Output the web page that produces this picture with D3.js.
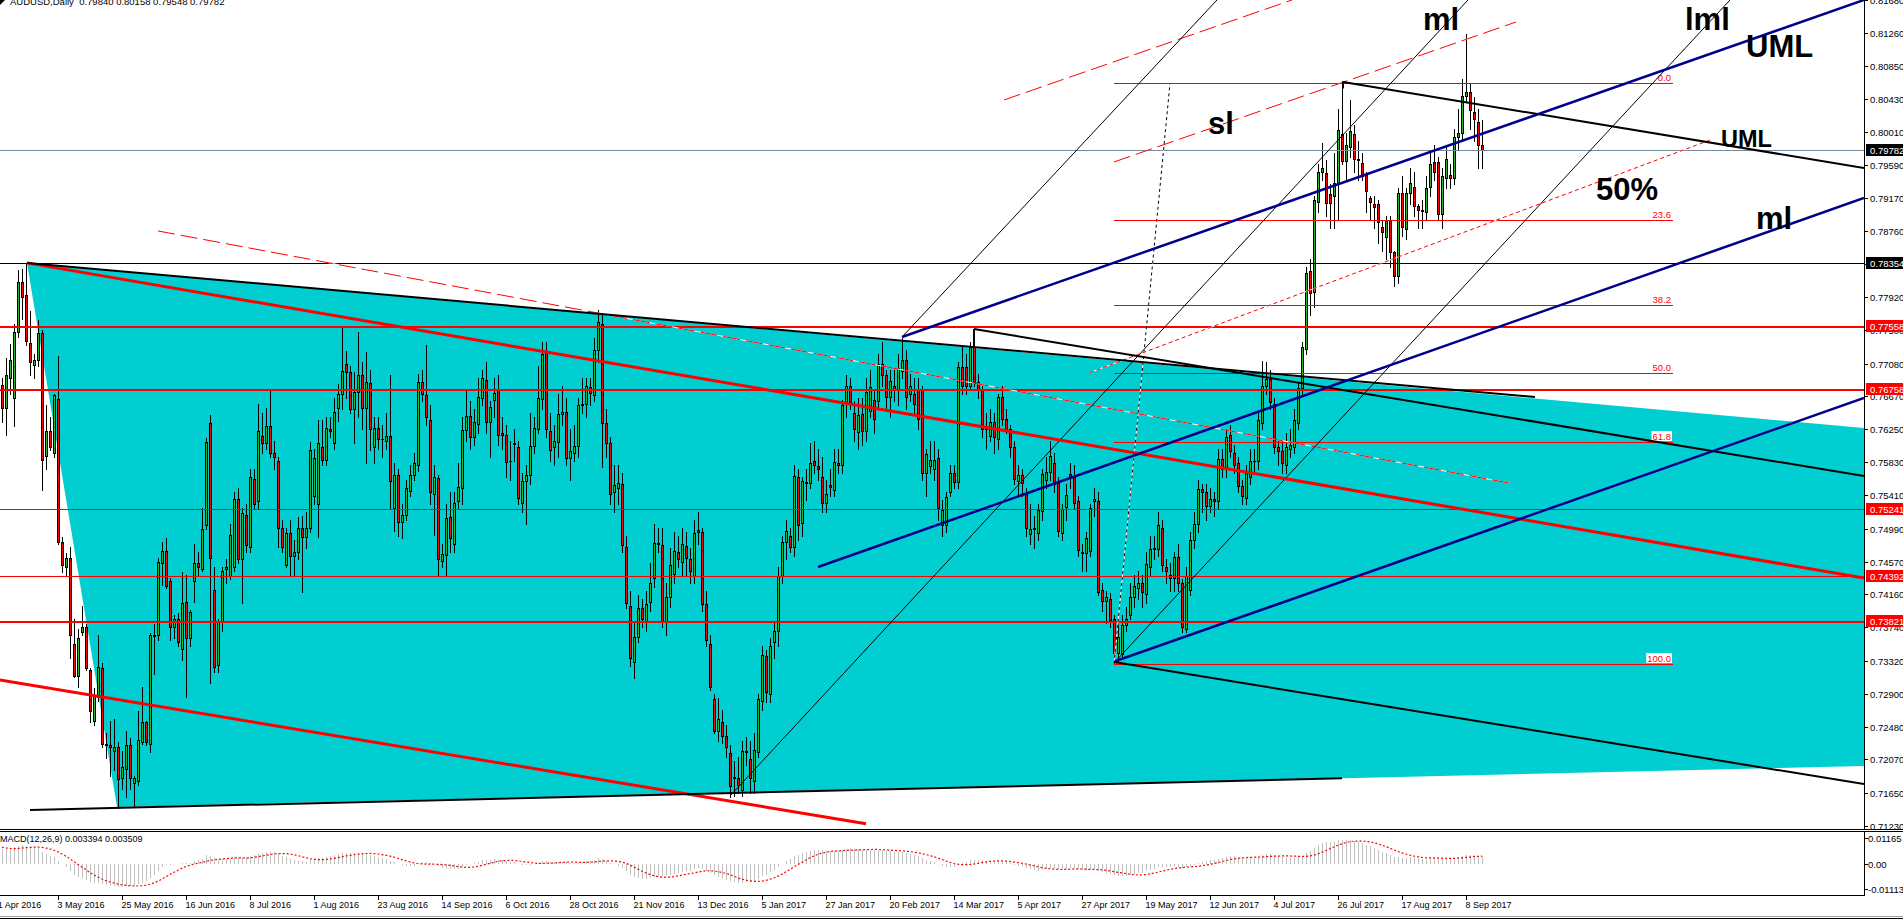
<!DOCTYPE html>
<html>
<head>
<meta charset="utf-8">
<title>AUDUSD Daily</title>
<script src="https://cdn.jsdelivr.net/npm/d3@7/dist/d3.min.js"></script>
<style>
  body { margin: 0; background: #fff; overflow: hidden; }
  svg { display: block; }
  text { font-family: "Liberation Sans", Arial, sans-serif; }
</style>
</head>
<body>
<svg id="chart" width="1903" height="919"></svg>
<script>
// AUDUSD daily bars, 11 Apr 2016 .. 14 Sep 2017, prices in pips (x 0.0001)
const opens = [
7590,7630,7681,7652,7690,7665,7748,7811,7795,7734,
7706,7713,7747,7591,7623,7595,7663,7482,7451,7462,
7353,7313,7368,7374,7320,7256,7286,7322,7227,7225,
7218,7222,7184,7195,7225,7177,7179,7229,7254,7227,
7365,7365,7455,7471,7433,7374,7385,7347,7406,7360,
7433,7455,7448,7503,7633,7421,7326,7381,7448,7439,
7451,7537,7460,7516,7476,7562,7534,7616,7607,7629,
7595,7585,7500,7453,7494,7464,7469,7500,7489,7500,
7540,7530,7602,7586,7625,7607,7652,7670,7708,7697,
7650,7672,7693,7652,7683,7602,7626,7612,7610,7616,
7525,7567,7507,7516,7547,7567,7580,7685,7668,7636,
7543,7563,7458,7466,7514,7479,7534,7550,7624,7641,
7615,7632,7665,7687,7634,7662,7674,7620,7617,7584,
7606,7602,7532,7559,7567,7604,7625,7663,7722,7623,
7602,7609,7644,7647,7589,7595,7604,7655,7657,7678,
7668,7725,7758,7633,7607,7545,7550,7555,7476,7401,
7330,7362,7399,7381,7406,7437,7481,7478,7381,7412,
7441,7470,7457,7477,7461,7439,7497,7495,7403,7353,
7283,7243,7254,7236,7215,7184,7184,7168,7218,7208,
7180,7216,7281,7338,7290,7355,7369,7439,7482,7490,
7476,7564,7506,7558,7557,7585,7578,7565,7532,7554,
7548,7582,7580,7657,7679,7646,7621,7644,7623,7648,
7662,7661,7708,7693,7666,7680,7674,7698,7713,7670,
7670,7675,7674,7570,7578,7574,7589,7503,7503,7546,
7570,7558,7703,7703,7680,7729,7684,7674,7625,7616,
7634,7612,7666,7638,7625,7602,7559,7567,7543,7492,
7499,7494,7521,7561,7571,7582,7557,7494,7526,7568,
7565,7534,7469,7468,7471,7534,7534,7421,7408,7410,
7385,7342,7340,7377,7390,7412,7424,7430,7416,7450,
7473,7473,7500,7451,7440,7437,7463,7430,7372,7421,
7485,7505,7549,7546,7528,7537,7534,7587,7574,7618,
7595,7582,7553,7538,7564,7584,7584,7633,7680,7688,
7657,7602,7597,7579,7600,7602,7633,7677,7726,7825,
7799,7912,7951,7949,7923,7920,7936,7999,7964,7982,
7998,7967,7962,7947,7917,7910,7910,7881,7868,7889,
7849,7819,7924,7878,7924,7932,7907,7902,7900,7931,
7963,7963,7897,7943,7947,7943,7995,8000,8047,8052,
8026,8014,7984
];
const highs = [
7640,7690,7690,7715,7733,7758,7826,7828,7835,7774,
7720,7763,7751,7656,7640,7670,7718,7489,7468,7476,
7385,7372,7401,7378,7322,7297,7365,7329,7240,7256,
7258,7229,7218,7243,7234,7186,7268,7299,7256,7367,
7378,7462,7482,7487,7437,7390,7392,7444,7440,7396,
7480,7470,7525,7614,7643,7451,7385,7451,7460,7505,
7545,7550,7525,7530,7575,7575,7657,7645,7652,7675,
7610,7590,7510,7500,7510,7485,7514,7515,7520,7609,
7600,7636,7636,7640,7640,7665,7682,7754,7724,7705,
7697,7748,7710,7722,7700,7640,7640,7630,7645,7693,
7582,7575,7530,7560,7580,7595,7695,7700,7731,7656,
7580,7567,7480,7530,7545,7545,7582,7640,7675,7660,
7650,7690,7700,7710,7660,7690,7693,7640,7630,7610,
7625,7610,7570,7580,7645,7640,7705,7735,7735,7645,
7630,7670,7680,7665,7625,7630,7665,7690,7690,7690,
7740,7776,7772,7650,7615,7580,7580,7570,7490,7420,
7380,7415,7410,7420,7455,7505,7500,7500,7430,7475,
7495,7490,7500,7495,7475,7510,7520,7500,7420,7365,
7290,7285,7270,7250,7225,7205,7210,7230,7235,7230,
7240,7290,7350,7345,7360,7380,7450,7490,7510,7500,
7580,7575,7565,7575,7607,7610,7600,7590,7560,7575,
7600,7600,7662,7693,7690,7660,7665,7665,7690,7700,
7675,7720,7735,7700,7700,7700,7720,7740,7725,7695,
7690,7690,7680,7600,7610,7610,7600,7535,7545,7580,
7580,7710,7730,7720,7735,7751,7695,7680,7645,7650,
7645,7670,7680,7650,7630,7610,7580,7575,7550,7530,
7515,7530,7575,7590,7610,7595,7565,7530,7555,7582,
7580,7540,7480,7495,7530,7550,7545,7430,7420,7418,
7390,7385,7390,7400,7430,7440,7445,7440,7470,7490,
7490,7520,7510,7460,7455,7470,7480,7435,7450,7495,
7520,7560,7555,7555,7550,7545,7600,7600,7625,7630,
7605,7590,7560,7580,7600,7600,7645,7711,7710,7700,
7665,7610,7610,7620,7625,7650,7685,7735,7830,7840,
7920,7960,7987,7965,7935,7975,8030,8065,8000,8042,
8010,7990,7975,7950,7920,7920,7915,7890,7895,7895,
7850,7930,7945,7930,7955,7950,7910,7915,7945,7975,
7985,7970,7955,7985,7960,8005,8030,8068,8125,8062,
8045,8030,8016
];
const lows = [
7580,7620,7634,7618,7670,7629,7742,7765,7731,7693,
7690,7705,7548,7575,7598,7590,7480,7444,7440,7335,
7311,7299,7364,7320,7254,7250,7281,7222,7209,7186,
7193,7145,7170,7159,7170,7148,7175,7227,7225,7216,
7315,7358,7428,7424,7358,7360,7350,7333,7286,7350,
7406,7440,7446,7498,7304,7318,7318,7370,7430,7435,
7445,7455,7405,7470,7470,7525,7525,7595,7600,7590,
7575,7476,7470,7450,7440,7440,7460,7419,7475,7495,
7530,7489,7580,7580,7615,7600,7635,7650,7665,7645,
7607,7640,7625,7582,7598,7582,7600,7590,7600,7525,
7496,7490,7487,7510,7540,7560,7572,7660,7630,7530,
7491,7440,7451,7440,7470,7470,7525,7530,7610,7600,
7605,7620,7655,7620,7590,7640,7605,7600,7565,7560,
7585,7530,7520,7505,7555,7595,7620,7650,7615,7585,
7580,7590,7630,7580,7560,7585,7590,7645,7640,7655,
7660,7710,7577,7590,7530,7520,7530,7470,7398,7325,
7310,7355,7375,7370,7395,7425,7470,7375,7365,7400,
7430,7450,7440,7440,7430,7430,7480,7395,7350,7295,
7240,7230,7228,7210,7159,7160,7164,7160,7200,7165,
7165,7210,7270,7280,7280,7335,7350,7430,7460,7470,
7465,7485,7490,7535,7550,7570,7560,7520,7520,7540,
7540,7570,7570,7640,7650,7610,7600,7605,7610,7640,
7620,7650,7680,7650,7640,7660,7655,7690,7650,7660,
7645,7625,7560,7540,7570,7560,7510,7490,7495,7540,
7550,7550,7670,7670,7675,7680,7665,7615,7600,7610,
7595,7600,7630,7620,7590,7555,7540,7540,7490,7480,
7475,7485,7510,7550,7560,7545,7490,7485,7510,7550,
7525,7465,7445,7445,7465,7515,7415,7395,7380,7375,
7328,7330,7335,7370,7385,7400,7410,7400,7405,7440,
7460,7465,7445,7430,7420,7420,7420,7368,7368,7415,
7475,7495,7520,7510,7520,7515,7525,7565,7565,7590,
7570,7545,7530,7530,7555,7570,7575,7625,7670,7650,
7595,7580,7570,7570,7590,7595,7625,7670,7720,7770,
7780,7900,7940,7895,7880,7880,7890,7960,7940,7970,
7950,7940,7940,7900,7890,7880,7860,7850,7840,7830,
7806,7810,7870,7865,7910,7895,7880,7880,7890,7920,
7940,7890,7880,7930,7930,7935,7980,7990,8040,8005,
7990,7955,7955
];
const closes = [
7630,7681,7652,7693,7713,7748,7811,7792,7736,7710,
7713,7747,7586,7623,7602,7668,7482,7453,7462,7365,
7313,7360,7374,7322,7268,7288,7324,7227,7225,7222,
7222,7182,7197,7225,7184,7184,7231,7254,7229,7365,
7363,7457,7471,7426,7374,7385,7356,7405,7360,7394,
7455,7451,7498,7609,7462,7324,7381,7446,7450,7491,
7537,7460,7519,7478,7564,7530,7623,7607,7629,7595,
7590,7500,7476,7494,7464,7469,7500,7489,7500,7598,
7589,7607,7586,7627,7623,7647,7670,7699,7697,7650,
7672,7693,7652,7685,7625,7626,7612,7613,7616,7559,
7567,7507,7516,7550,7567,7582,7685,7670,7640,7545,
7565,7461,7467,7513,7487,7531,7552,7624,7642,7615,
7634,7666,7690,7634,7653,7671,7617,7617,7583,7585,
7607,7538,7559,7567,7604,7626,7665,7720,7625,7598,
7610,7644,7647,7589,7597,7604,7655,7657,7679,7671,
7725,7760,7633,7607,7543,7554,7557,7478,7405,7335,
7362,7399,7385,7403,7430,7481,7480,7381,7412,7453,
7471,7460,7479,7462,7445,7494,7495,7403,7358,7299,
7243,7258,7236,7222,7173,7185,7175,7218,7216,7184,
7219,7283,7339,7292,7351,7369,7439,7482,7496,7476,
7566,7503,7559,7557,7582,7580,7575,7532,7543,7552,
7583,7580,7656,7679,7659,7625,7643,7623,7672,7678,
7638,7708,7693,7666,7686,7674,7702,7712,7666,7679,
7657,7638,7570,7594,7586,7586,7525,7523,7539,7570,
7558,7703,7679,7680,7729,7684,7674,7625,7626,7634,
7615,7666,7638,7625,7602,7562,7567,7557,7500,7499,
7500,7522,7568,7571,7591,7555,7496,7524,7542,7566,
7532,7472,7468,7487,7525,7536,7419,7408,7413,7383,
7342,7362,7377,7385,7412,7426,7430,7419,7454,7473,
7474,7503,7453,7446,7437,7463,7430,7374,7439,7485,
7505,7549,7546,7528,7537,7534,7587,7574,7615,7597,
7579,7553,7540,7569,7584,7585,7636,7680,7688,7659,
7602,7597,7582,7602,7605,7636,7677,7729,7822,7797,
7915,7951,7956,7911,7911,7936,8004,7964,7985,8002,
7967,7966,7946,7926,7912,7906,7887,7874,7889,7849,
7819,7924,7881,7924,7937,7907,7902,7901,7930,7961,
7950,7897,7946,7967,7943,7995,8000,8047,8052,8029,
8018,7985,7978
];
// closes before the visible window (Feb..8 Apr 2016), only used to warm up the MACD
const warmupCloses = [
7080,7050,7110,7150,7050,7070,7060,7090,7030,7120,
7140,7110,7160,7140,7140,7180,7160,7160,7200,7160,
7130,7180,7250,7340,7390,7460,7400,7440,7410,7520,
7510,7440,7560,7630,7620,7600,7590,7530,7500,7510,
7530,7640,7670,7660,7640,7600,7560,7590,7530,7580
];

const dateLabels = ["11 Apr 2016","3 May 2016","25 May 2016","16 Jun 2016","8 Jul 2016","1 Aug 2016",
  "23 Aug 2016","14 Sep 2016","6 Oct 2016","28 Oct 2016","21 Nov 2016","13 Dec 2016","5 Jan 2017",
  "27 Jan 2017","20 Feb 2017","14 Mar 2017","5 Apr 2017","27 Apr 2017","19 May 2017","12 Jun 2017",
  "4 Jul 2017","26 Jul 2017","17 Aug 2017","8 Sep 2017"];
const priceTicks = [0.81680,0.81260,0.80850,0.80430,0.80010,0.79590,0.79170,0.78760,0.78340,0.77920,
  0.77500,0.77080,0.76670,0.76250,0.75830,0.75410,0.74990,0.74570,0.74160,0.73740,0.73320,0.72900,
  0.72480,0.72070,0.71650,0.71230];
const macdTicks = [0.01165, 0.00, -0.01113];

// horizontal lines
const bidPrice = 0.79782;
const levelsBlack = [0.78354];
const levelsRedThick = [0.77558, 0.76758, 0.73821];
const levelsRedThin = [0.75241, 0.74392];

// fibonacci retracement
const fibRatios = [0.0, 23.6, 38.2, 50.0, 61.8, 100.0];
const fibHigh = 0.80627, fibLow = 0.73281;
const fibBars = [280, 294, 419.75];   // low anchor, high anchor, right end of levels

// drawn objects, anchors as [bar index, price]
const triangle = [[8.25,0.78354],[30.75,0.71466],[1213,0.72871]];
const blackThick = [
  [[8.25,0.78354],[385.25,0.76656]],
  [[9,0.71428],[337,0.71830]],
  [[245,0.77517],[467.5,0.75656]],
  [[337.25,0.80644],[467.5,0.79555]],
  [[280,0.73302],[467.5,0.71757]]
];
const blackTicks = [[[245,0.77517],[245,0.77300]],[[337.25,0.80644],[337.25,0.80560]]];
const redThick = [
  [[8.25,0.78354],[467.5,0.74365]],
  [[-2,0.73103],[218,0.71255]]
];
const blueLines = [
  [[227,0.77416],[467.5,0.81682]],
  [[206,0.74504],[467.5,0.79175]],
  [[280.25,0.73311],[467.5,0.76644]]
];
const blackThin = [
  [[227,0.77416],[305.75,0.81682]],
  [[184,0.71606],[368.5,0.81682]],
  [[280.25,0.73304],[434,0.81682]]
];
const redDashed = [
  [[41,0.78758],[378.75,0.75568]],
  [[252.5,0.80416],[324.5,0.81682]],
  [[280,0.79631],[380.5,0.81403]]
];
const redDotted = [[[274,0.76966],[429,0.79909]]];

const notes = [
  {text:"ml",  bar:357.25, price:0.81302, big:true},
  {text:"lml", bar:422.75, price:0.81302, big:true},
  {text:"UML", bar:438,    price:0.80960, big:true},
  {text:"UML", bar:431.75, price:0.79821, big:false},
  {text:"sl",  bar:303.5,  price:0.79985, big:true},
  {text:"50%", bar:400.5,  price:0.79150, big:true},
  {text:"ml",  bar:440.5,  price:0.78783, big:true}
];

// ---------- layout ----------
const W = 1903, H = 919;
const axisX = 1864, mainBottom = 829, macdTop = 831, macdBottom = 895;
const BULL = "#2fb52f", BEAR = "#ff0000", CYAN = "#00ced1", NAVY = "#00008b";

const svg = d3.select("#chart");
svg.append("rect").attr("width", W).attr("height", H).attr("fill", "#fff");

const x = d3.scaleLinear().domain([0, 372]).range([-6, 1482]);
const y = d3.scaleLinear().domain([0.71230, 0.81260]).range([825.7, 33.3]);
const ym = d3.scaleLinear().domain([-0.01113, 0.01165]).range([889.3, 837.7]);
const pip = v => v / 10000;

const defs = svg.append("defs");
defs.append("clipPath").attr("id", "mainClip").append("rect")
  .attr("x", 0).attr("y", 0).attr("width", axisX).attr("height", mainBottom);
defs.append("clipPath").attr("id", "macdClip").append("rect")
  .attr("x", 0).attr("y", macdTop).attr("width", axisX).attr("height", macdBottom - macdTop);

const main = svg.append("g").attr("clip-path", "url(#mainClip)");

// filled triangle (background object)
main.append("path")
  .attr("d", d3.line().x(d => x(d[0])).y(d => y(d[1]))(triangle) + "Z")
  .attr("fill", CYAN);

const seg = (g, list, stroke, width, dash, under) => {
  list.forEach(p => {
    const a = {x1: x(p[0][0]), y1: y(p[0][1]), x2: x(p[1][0]), y2: y(p[1][1])};
    if (under) {
      g.append("line").attr("x1", a.x1).attr("y1", a.y1).attr("x2", a.x2).attr("y2", a.y2)
        .attr("stroke", "#fff").attr("stroke-width", width);
    }
    g.append("line").attr("x1", a.x1).attr("y1", a.y1).attr("x2", a.x2).attr("y2", a.y2)
      .attr("stroke", stroke).attr("stroke-width", width)
      .attr("stroke-dasharray", dash || null);
  });
};

// candles
const bars = d3.range(closes.length).map(i => ({
  i, o: pip(opens[i]), h: pip(highs[i]), l: pip(lows[i]), c: pip(closes[i])
}));
const cg = main.append("g").attr("shape-rendering", "crispEdges");
cg.selectAll("line.wick").data(bars).join("line").attr("class", "wick")
  .attr("x1", d => Math.round(x(d.i)) + 0.5).attr("x2", d => Math.round(x(d.i)) + 0.5)
  .attr("y1", d => Math.round(y(d.h))).attr("y2", d => Math.round(y(d.l)) + 1)
  .attr("stroke", "#000");
const bodyTop = d => Math.round(y(Math.max(d.o, d.c)));
const bodyH = d => Math.max(1, Math.round(y(Math.min(d.o, d.c))) - bodyTop(d) + 1);
cg.selectAll("rect.body").data(bars).join("rect").attr("class", "body")
  .attr("x", d => Math.round(x(d.i)) - 1).attr("width", 3)
  .attr("y", bodyTop).attr("height", bodyH).attr("fill", "#000");
cg.selectAll("rect.fill").data(bars.filter(d => bodyH(d) > 2)).join("rect").attr("class", "fill")
  .attr("x", d => Math.round(x(d.i))).attr("width", 1)
  .attr("y", d => bodyTop(d) + 1).attr("height", d => bodyH(d) - 2)
  .attr("fill", d => d.c >= d.o ? BULL : BEAR);

// horizontal lines
const lg = main.append("g").attr("shape-rendering", "crispEdges");
const hline = (p, stroke, w) => lg.append("line")
  .attr("x1", 0).attr("x2", axisX).attr("y1", Math.round(y(p)) + 0.5).attr("y2", Math.round(y(p)) + 0.5)
  .attr("stroke", stroke).attr("stroke-width", w);
hline(bidPrice, "#778899", 1);
levelsBlack.forEach(p => hline(p, "#000", 1));
levelsRedThick.forEach(p => hline(p, BEAR, 2));
levelsRedThin.forEach(p => hline(p, BEAR, 1));

// fibonacci levels
const fg = main.append("g");
seg(fg, [[[fibBars[0], fibLow], [fibBars[1], fibHigh]]], "#000", 1, "3,3", true);
fibRatios.forEach(r => {
  const p = fibHigh - (fibHigh - fibLow) * r / 100;
  const yy = Math.round(y(p)) + 0.5;
  fg.append("line").attr("x1", x(fibBars[0])).attr("x2", x(fibBars[2]))
    .attr("y1", yy).attr("y2", yy).attr("stroke", BEAR).attr("stroke-width", 1)
    .attr("shape-rendering", "crispEdges");
  const t = fg.append("text").attr("x", x(fibBars[2]) - 2).attr("y", yy - 2.5)
    .attr("text-anchor", "end").attr("font-size", 9.5).attr("fill", BEAR).text(r.toFixed(1));
  const bb = t.node().getBBox();
  fg.insert("rect", () => t.node()).attr("x", bb.x - 1).attr("y", bb.y)
    .attr("width", bb.width + 2).attr("height", bb.height - 1).attr("fill", "#fff");
});

// trend lines
const tg = main.append("g");
seg(tg, redDashed, BEAR, 1, "17,6", true);
seg(tg, redDotted, BEAR, 1, "4,3", true);
seg(tg, blackThin, "#000", 1);
seg(tg, redThick, BEAR, 3);
seg(tg, blackThick, "#000", 2);
seg(tg, blackTicks, "#000", 2);
seg(tg, blueLines, NAVY, 2.5);

// text objects
main.append("g").selectAll("text").data(notes).join("text")
  .attr("x", d => x(d.bar)).attr("y", d => y(d.price))
  .attr("font-size", d => d.big ? 31 : 23.5).attr("font-weight", "bold").attr("fill", "#000")
  .text(d => d.text);

// ---------- MACD(12,26,9) ----------
const all = warmupCloses.concat(closes).map(pip);
let e12 = all[0], e26 = all[0];
const macdAll = all.map((c, k) => {
  if (k) { e12 += (c - e12) * 2 / 13; e26 += (c - e26) * 2 / 27; }
  return e12 - e26;
});
const sigAll = macdAll.map((v, k) => d3.mean(macdAll.slice(Math.max(0, k - 8), k + 1)));
const off = warmupCloses.length;
const macd = macdAll.slice(off), signal = sigAll.slice(off);

const mg = svg.append("g").attr("clip-path", "url(#macdClip)");
mg.append("g").attr("shape-rendering", "crispEdges").selectAll("line").data(macd).join("line")
  .attr("x1", (d, i) => Math.round(x(i)) + 0.5).attr("x2", (d, i) => Math.round(x(i)) + 0.5)
  .attr("y1", ym(0)).attr("y2", d => ym(d)).attr("stroke", "#c0c0c0");
mg.append("path").datum(signal)
  .attr("d", d3.line().x((d, i) => x(i)).y(d => ym(d)))
  .attr("fill", "none").attr("stroke", BEAR).attr("stroke-width", 1.2).attr("stroke-dasharray", "2,2");
svg.append("text").attr("x", 0).attr("y", 842).attr("font-size", 9).attr("fill", "#000")
  .text("MACD(12,26,9) 0.003394 0.003509");

// ---------- frames and axes ----------
const fr = svg.append("g").attr("shape-rendering", "crispEdges").attr("stroke", "#000");
fr.append("line").attr("x1", 0).attr("x2", W).attr("y1", mainBottom + 0.5).attr("y2", mainBottom + 0.5);
fr.append("line").attr("x1", 0).attr("x2", W).attr("y1", macdTop + 0.5).attr("y2", macdTop + 0.5);
fr.append("line").attr("x1", 0).attr("x2", axisX).attr("y1", macdBottom + 0.5).attr("y2", macdBottom + 0.5);
fr.append("line").attr("x1", axisX + 0.5).attr("x2", axisX + 0.5).attr("y1", 0).attr("y2", mainBottom);
fr.append("line").attr("x1", axisX + 0.5).attr("x2", axisX + 0.5).attr("y1", macdTop).attr("y2", macdBottom + 1);
fr.append("line").attr("x1", 0).attr("x2", W).attr("y1", 916.5).attr("y2", 916.5).attr("stroke", "#a0a0a0");
fr.append("line").attr("x1", 0).attr("x2", W).attr("y1", 918.5).attr("y2", 918.5);

const ax = svg.append("g");
priceTicks.forEach(p => {
  const yy = Math.round(y(p)) + 0.5;
  ax.append("line").attr("x1", axisX).attr("x2", axisX + 4).attr("y1", yy).attr("y2", yy)
    .attr("stroke", "#000").attr("shape-rendering", "crispEdges");
  ax.append("text").attr("x", axisX + 6).attr("y", yy).attr("dy", "0.36em")
    .attr("font-size", 9.5).attr("fill", "#000").text(p.toFixed(5));
});
macdTicks.forEach(v => {
  const yy = Math.round(ym(v)) + 0.5;
  ax.append("line").attr("x1", axisX).attr("x2", axisX + 4).attr("y1", yy).attr("y2", yy)
    .attr("stroke", "#000").attr("shape-rendering", "crispEdges");
  ax.append("text").attr("x", axisX + 4).attr("y", yy).attr("dy", "0.36em")
    .attr("font-size", 9.5).attr("fill", "#000").text(v === 0 ? "0.00" : v.toFixed(5));
});
const box = (p, fill) => {
  const yy = Math.round(y(p));
  ax.append("rect").attr("x", axisX + 2).attr("y", yy - 6).attr("width", W - axisX - 2).attr("height", 12)
    .attr("fill", fill);
  ax.append("text").attr("x", axisX + 6).attr("y", yy + 0.5).attr("dy", "0.36em")
    .attr("font-size", 9.5).attr("fill", "#fff").text(p.toFixed(5));
};
box(bidPrice, "#000");
levelsBlack.forEach(p => box(p, "#000"));
levelsRedThick.concat(levelsRedThin).forEach(p => box(p, BEAR));

dateLabels.forEach((t, k) => {
  const xx = Math.round(x(k * 16)) + 0.5;
  ax.append("line").attr("x1", xx).attr("x2", xx).attr("y1", macdBottom + 1).attr("y2", macdBottom + 5)
    .attr("stroke", "#000").attr("shape-rendering", "crispEdges");
  ax.append("text").attr("x", xx - 1).attr("y", 908).attr("font-size", 9).attr("fill", "#000").text(t);
});

// title
svg.append("path").attr("d", "M0,0 L5,0 L0,5 Z").attr("fill", "#000");
svg.append("text").attr("x", 10).attr("y", 5).attr("font-size", 9.5).attr("fill", "#000")
  .attr("xml:space", "preserve").style("white-space", "pre")
  .text("AUDUSD,Daily  0.79840 0.80158 0.79548 0.79782");
</script>
</body>
</html>
